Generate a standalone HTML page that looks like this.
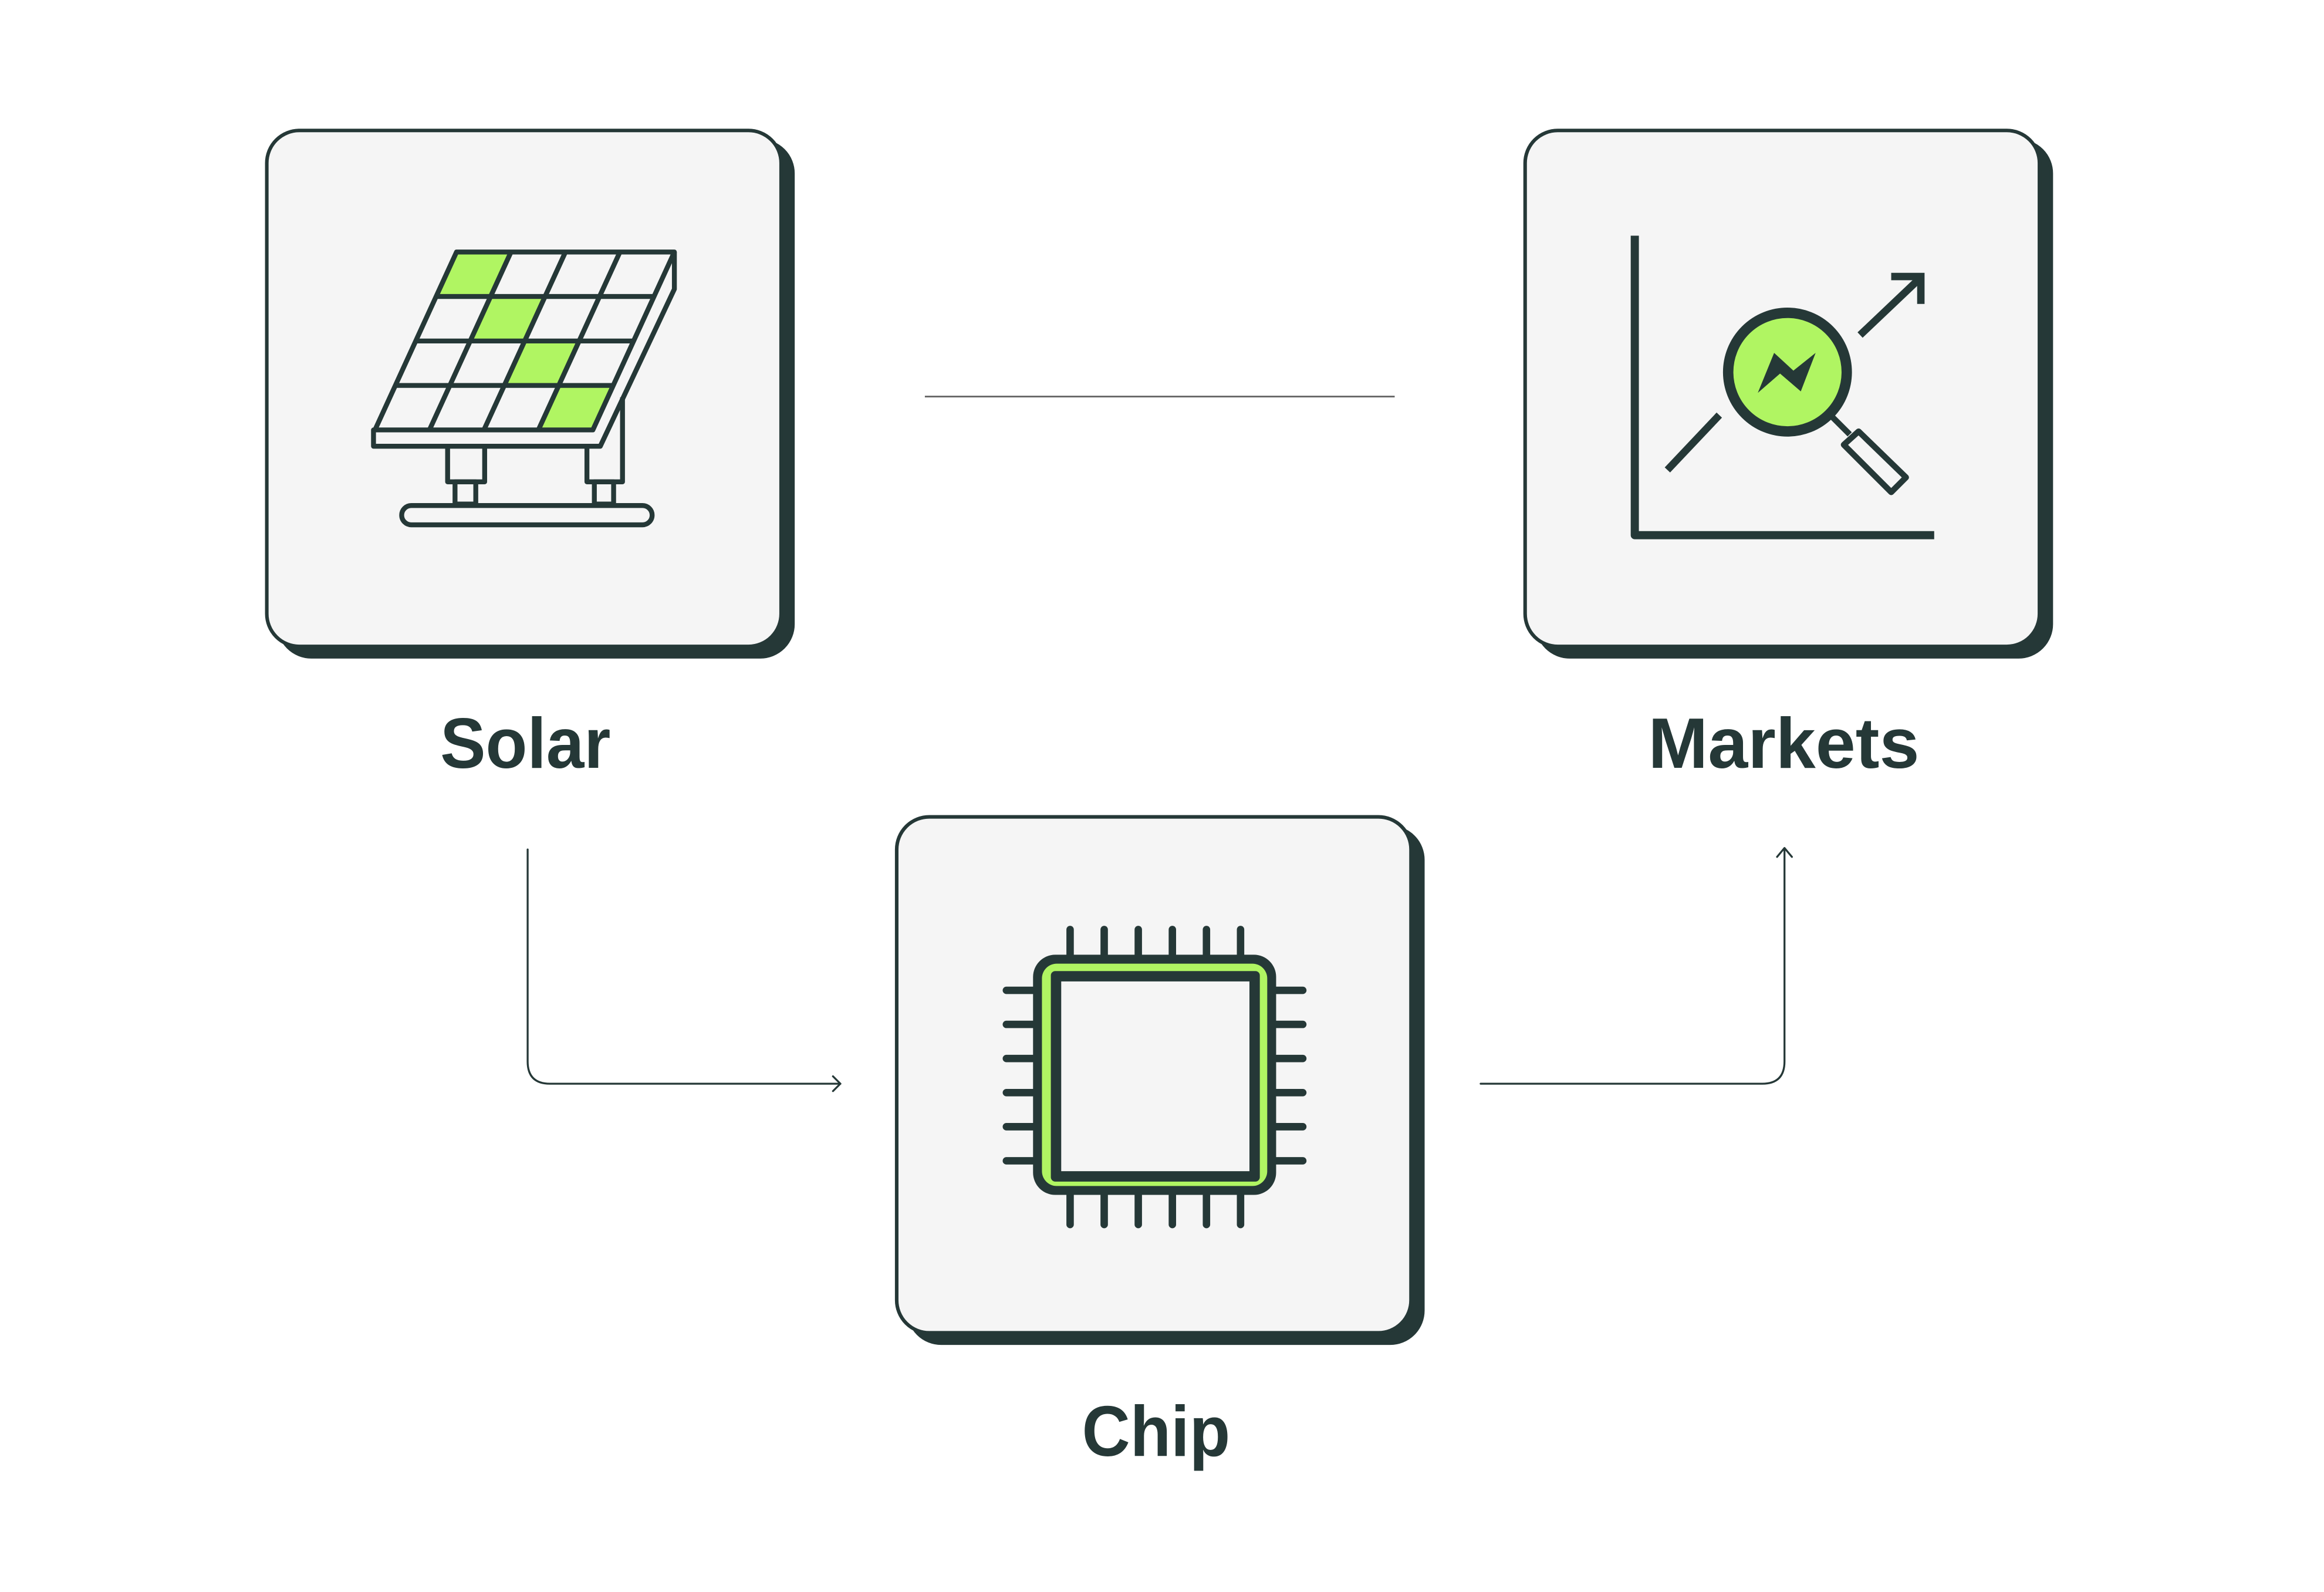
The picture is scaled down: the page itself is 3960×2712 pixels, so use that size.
<!DOCTYPE html>
<html><head><meta charset="utf-8"><style>html,body{margin:0;padding:0;background:#fff}svg{display:block}</style></head>
<body>
<svg width="3960" height="2712" viewBox="0 0 1568 1073.85" xmlns="http://www.w3.org/2000/svg">
<rect width="1568" height="1074" fill="#fff"/>
<g stroke="#253837" stroke-linecap="round" stroke-linejoin="round">
<line x1="624" y1="267.5" x2="941" y2="267.5" stroke="#666" stroke-width="1.1" stroke-linecap="butt"/>
<path d="M356 573 V716 Q356 731 371 731 H567" fill="none" stroke-width="1.3"/>
<path d="M562 726 L567 731 L562 736" fill="none" stroke-width="1.3"/>
<path d="M999 731 H1189 Q1204 731 1204 716 V573" fill="none" stroke-width="1.3"/>
<path d="M1199 578 L1204 572 L1209 578" fill="none" stroke-width="1.3"/>
</g>
<g stroke="#253837" stroke-width="2.4">
<rect x="188" y="95" width="347" height="348" rx="22" fill="#253837"/>
<rect x="180" y="88" width="347" height="348" rx="22" fill="#f5f5f5"/>
<rect x="1037" y="95" width="347" height="348" rx="22" fill="#253837"/>
<rect x="1029" y="88" width="347" height="348" rx="22" fill="#f5f5f5"/>
<rect x="613" y="558" width="347" height="348" rx="22" fill="#253837"/>
<rect x="605" y="551" width="347" height="348" rx="22" fill="#f5f5f5"/>
</g>
<!-- solar -->
<g stroke="#253837" stroke-width="3.3" stroke-linejoin="round" fill="none">
<polygon points="308,170 344.75,170 331,200 294.25,200" fill="#b0f562" stroke="none"/>
<polygon points="331,200 367.75,200 354,230 317.25,230" fill="#b0f562" stroke="none"/>
<polygon points="354,230 390.75,230 377,260 340.25,260" fill="#b0f562" stroke="none"/>
<polygon points="377,260 413.75,260 400,290 363.25,290" fill="#b0f562" stroke="none"/>
<polygon points="308,170 455,170 400,290 253,290"/>
<line x1="294.25" y1="200" x2="441.25" y2="200"/>
<line x1="280.5" y1="230" x2="427.5" y2="230"/>
<line x1="266.75" y1="260" x2="413.75" y2="260"/>
<line x1="344.75" y1="170" x2="289.75" y2="290"/>
<line x1="381.5" y1="170" x2="326.5" y2="290"/>
<line x1="418.25" y1="170" x2="363.25" y2="290"/>
<polyline points="253,290 252,290 252,301 405,301 455,195 455,170"/>
<polyline points="420,268 420,325 396,325 396,301"/>
<polyline points="302,301 302,325 327,325 327,301"/>
<rect x="307" y="325" width="14" height="15"/>
<rect x="401" y="325" width="13" height="15"/>
<rect x="271" y="341" width="169" height="13" rx="6.5"/>
</g>
<!-- markets -->
<g stroke="#253837" fill="none">
<polyline points="1103,159 1103,361 1305,361" stroke-width="5.5" stroke-linejoin="round"/>
<line x1="1125" y1="317" x2="1160" y2="280" stroke-width="5"/>
<line x1="1255" y1="226" x2="1294" y2="189" stroke-width="5"/>
<polyline points="1276,186.5 1296,186.5 1296,205" stroke-width="5"/>
<circle cx="1206" cy="251" r="40" fill="#b0f562" stroke-width="7"/>
<line x1="1236" y1="281" x2="1248" y2="293" stroke-width="4"/>
<polygon points="1254,291 1286,322 1276,332 1244,300" stroke-width="4" stroke-linejoin="round"/>
<polygon points="1186,265 1197,238 1210,250 1225,238 1215,264 1201,252" fill="#253837" stroke="none"/>
</g>
<!-- chip -->
<g stroke="#253837" stroke-width="5" stroke-linecap="round">
<line x1="722" y1="627" x2="722" y2="644"/><line x1="745" y1="627" x2="745" y2="644"/><line x1="768" y1="627" x2="768" y2="644"/><line x1="791" y1="627" x2="791" y2="644"/><line x1="814" y1="627" x2="814" y2="644"/><line x1="837" y1="627" x2="837" y2="644"/>
<line x1="722" y1="806" x2="722" y2="826"/><line x1="745" y1="806" x2="745" y2="826"/><line x1="768" y1="806" x2="768" y2="826"/><line x1="791" y1="806" x2="791" y2="826"/><line x1="814" y1="806" x2="814" y2="826"/><line x1="837" y1="806" x2="837" y2="826"/>
<line x1="679" y1="668" x2="697" y2="668"/><line x1="679" y1="691" x2="697" y2="691"/><line x1="679" y1="714" x2="697" y2="714"/><line x1="679" y1="737" x2="697" y2="737"/><line x1="679" y1="760" x2="697" y2="760"/><line x1="679" y1="783" x2="697" y2="783"/>
<line x1="861" y1="668" x2="879" y2="668"/><line x1="861" y1="691" x2="879" y2="691"/><line x1="861" y1="714" x2="879" y2="714"/><line x1="861" y1="737" x2="879" y2="737"/><line x1="861" y1="760" x2="879" y2="760"/><line x1="861" y1="783" x2="879" y2="783"/>
</g>
<rect x="697" y="644" width="164" height="162" rx="15" fill="#253837"/>
<rect x="703" y="650" width="152" height="150" rx="10" fill="#b0f562"/>
<rect x="709" y="655" width="141" height="142" rx="3" fill="#253837"/>
<rect x="716" y="662" width="127" height="128" fill="#f5f5f5"/>
<g font-family="Liberation Sans, sans-serif" font-weight="bold" font-size="48" fill="#253837">
<text x="297" y="518" textLength="115" lengthAdjust="spacingAndGlyphs">Solar</text>
<text x="1112" y="518" textLength="183" lengthAdjust="spacingAndGlyphs">Markets</text>
<text x="730" y="982" textLength="100" lengthAdjust="spacingAndGlyphs">Chip</text>
</g>
</svg>
</body></html>
